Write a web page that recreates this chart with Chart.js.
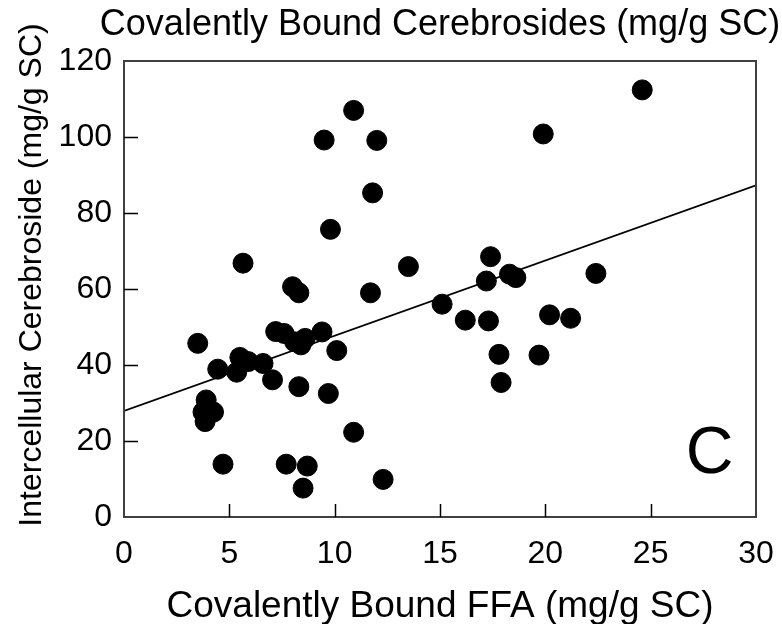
<!DOCTYPE html>
<html>
<head>
<meta charset="utf-8">
<script src="https://cdn.jsdelivr.net/npm/chart.js@4/dist/chart.umd.min.js"></script>
<style>
    html, body { margin: 0; padding: 0; background: #fff; }
    #wrap { width: 782px; height: 624px; }
</style>
</head>
<body>
<div id="wrap"><canvas id="chart" width="782" height="624"></canvas></div>
<script>
// covalently bound FFA (x) vs intercellular cerebroside (y)
const ffaValues = [10.9, 9.5, 12.0, 11.8, 9.8, 5.65, 13.5, 8.0, 8.3, 11.7,
    24.6, 19.9, 17.4, 17.2, 18.3, 18.6, 22.4, 15.1, 16.2, 17.3,
    20.2, 21.2, 17.8, 19.7, 17.9, 3.5, 7.2, 7.6, 9.4, 8.1,
    8.6, 8.4, 10.1, 5.5, 5.9, 6.6, 4.45, 5.35, 7.05, 8.3,
    9.7, 3.9, 3.75, 4.25, 3.85, 10.9, 4.7, 7.7, 8.7, 8.5, 12.3];
const cerebrosideValues = [107.0, 99.2, 99.1, 85.3, 75.7, 66.8, 65.9, 60.6, 59.0, 59.0,
    112.4, 100.8, 68.5, 62.1, 63.9, 63.0, 64.1, 56.0, 51.8, 51.6,
    53.2, 52.3, 42.8, 42.6, 35.4, 45.7, 48.8, 48.3, 48.7, 46.1,
    47.0, 45.3, 43.8, 42.0, 40.9, 40.4, 38.9, 38.1, 36.1, 34.3,
    32.5, 30.8, 27.6, 27.6, 25.1, 22.3, 13.9, 13.9, 13.4, 7.6, 9.9];
const fitX = [0, 30];
const fitY = [27.9, 87.3];
const xTicks = [0, 5, 10, 15, 20, 25, 30];
const yTicks = [0, 20, 40, 60, 80, 100, 120];

const chartTitle = "Covalently Bound Cerebrosides (mg/g SC)";
const xTitle = "Covalently Bound FFA (mg/g SC)";
const yTitle = "Intercellular Cerebroside (mg/g SC)";
const fontFamily = "'Liberation Sans', Arial, sans-serif";

const points = ffaValues.map((x, i) => ({x: x, y: cerebrosideValues[i]}));
const fitLine = fitX.map((x, i) => ({x: x, y: fitY[i]}));

// frame, inward ticks, titles and the panel letter
const framePlugin = {
    id: "frame",
    afterDraw(chart) {
        const ctx = chart.ctx;
        const a = chart.chartArea;
        const xs = chart.scales.x, ys = chart.scales.y;
        const midX = (a.left + a.right) / 2;
        ctx.save();
        ctx.strokeStyle = "#404040";
        ctx.lineWidth = 2;
        ctx.strokeRect(a.left, a.top, a.right - a.left, a.bottom - a.top);
        ctx.strokeStyle = "#000";
        ctx.lineWidth = 1.5;
        ctx.beginPath();
        xTicks.slice(1, -1).forEach(v => {
            const px = Math.round(xs.getPixelForValue(v)) + 0.5;
            ctx.moveTo(px, a.bottom);
            ctx.lineTo(px, a.bottom - 13);
        });
        yTicks.slice(1, -1).forEach(v => {
            const py = Math.round(ys.getPixelForValue(v)) + 0.5;
            ctx.moveTo(a.left, py);
            ctx.lineTo(a.left + 14, py);
        });
        ctx.stroke();

        ctx.fillStyle = "#000";
        ctx.textAlign = "center";
        ctx.textBaseline = "alphabetic";
        ctx.font = "36px " + fontFamily;
        ctx.fillText(chartTitle, midX, 35);
        ctx.font = "37px " + fontFamily;
        ctx.fillText(xTitle, midX, 617);

        ctx.save();
        ctx.translate(41, 275);
        ctx.rotate(-Math.PI / 2);
        ctx.font = "32px " + fontFamily;
        ctx.fillText(yTitle, 0, 0);
        ctx.restore();

        ctx.font = "66px " + fontFamily;
        ctx.textBaseline = "middle";
        ctx.fillText("C", xs.getPixelForValue(27.8), ys.getPixelForValue(16.5));
        ctx.restore();
    }
};

new Chart(document.getElementById("chart").getContext("2d"), {
    type: "scatter",
    plugins: [framePlugin],
    data: {
        datasets: [
            {
                label: "fit",
                type: "line",
                data: fitLine,
                borderColor: "#000",
                borderWidth: 1.8,
                pointRadius: 0,
                fill: false
            },
            {
                label: "samples",
                data: points,
                backgroundColor: "#000",
                borderColor: "#000",
                pointRadius: 10,
                pointHoverRadius: 10
            }
        ]
    },
    options: {
        responsive: false,
        animation: false,
        layout: {padding: {left: 0, right: 26, top: 61, bottom: 0}},
        plugins: {
            legend: {display: false},
            tooltip: {enabled: false},
            title: {display: false}
        },
        scales: {
            x: {
                type: "linear",
                min: 0,
                max: 30,
                afterBuildTicks: s => { s.ticks = xTicks.map(v => ({value: v})); },
                afterFit: s => { s.height = 107; s.paddingLeft = 0; s.paddingRight = 0; },
                grid: {display: false, drawTicks: false},
                border: {display: false},
                ticks: {
                    color: "#000",
                    padding: 18,
                    font: {family: fontFamily, size: 32}
                }
            },
            y: {
                type: "linear",
                min: 0,
                max: 120,
                afterBuildTicks: s => { s.ticks = yTicks.map(v => ({value: v})); },
                afterFit: s => { s.width = 124; s.paddingTop = 0; s.paddingBottom = 0; },
                grid: {display: false, drawTicks: false},
                border: {display: false},
                ticks: {
                    color: "#000",
                    padding: 12,
                    font: {family: fontFamily, size: 32}
                }
            }
        }
    }
});
</script>
</body>
</html>
